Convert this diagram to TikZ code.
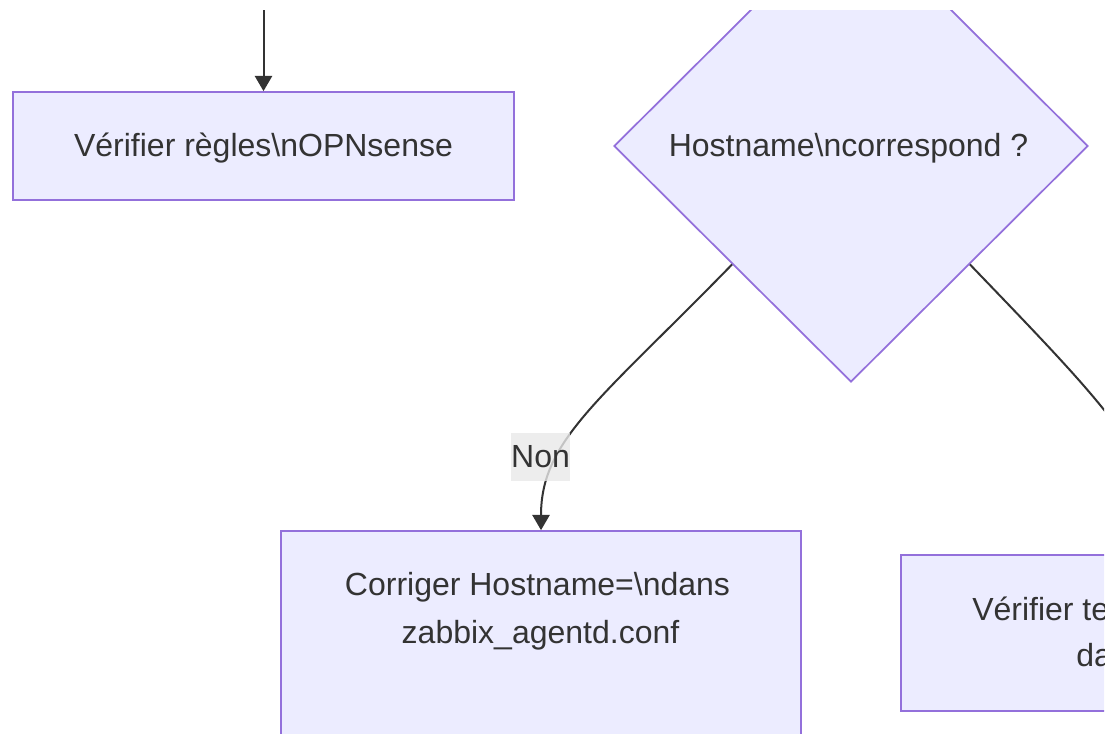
\documentclass[tikz,border=0pt]{standalone}
\usepackage{fontspec}
\setmainfont{Liberation Sans}
\usetikzlibrary{arrows.meta,shapes.geometric}
\definecolor{nodefill}{HTML}{ECECFF}
\definecolor{nodeline}{HTML}{9370DB}
\definecolor{ink}{HTML}{333333}
\definecolor{labelbg}{HTML}{E8E8E8}
\begin{document}
\begin{tikzpicture}[x=0.75pt,y=-0.75pt,
  every node/.style={font=\fontsize{24}{36}\selectfont, text=ink},
  box/.style={draw=nodeline, fill=nodefill, line width=1.3pt, inner sep=0pt},
  txt/.style={anchor=base, inner sep=0pt},
  flow/.style={draw=ink, line width=1.5pt, -{Triangle[length=11.5pt,width=13pt]}},
  edgelabel/.style={fill=labelbg, fill opacity=0.8, text opacity=1, inner sep=0pt,
                    minimum width=42.75pt, minimum height=36pt}
]
\useasboundingbox (0,0) rectangle (1120,733);
\clip (0,10) rectangle (1104,733);

% process boxes and the decision
\node[box, minimum width=375.75pt, minimum height=81pt] (rules) at (263.5,146) {};
\node[box, diamond, aspect=1, minimum width=355.5pt, minimum height=354pt] (check) at (851,146) {};
\node[box, minimum width=390pt, minimum height=171.75pt] (fix) at (541,645.5) {};
\node[box, minimum width=390pt, minimum height=117pt] (tmpl) at (1161,633) {};

% box texts
\node[txt] (rulesA) at (263.5,156) {Vérifier règles\textbackslash nOPNsense};
\node[txt] (checkA) at (848.5,156) {Hostname\textbackslash ncorrespond ?};
\node[txt] (fixA) at (537.5,595) {Corriger Hostname=\textbackslash ndans};
\node[txt] (fixB) at (540.5,643) {zabbix\_agentd.conf};
\node[txt, anchor=base west] (tmplA) at (972,620) {Vérifier te};
\node[txt, anchor=base west] (tmplB) at (1076,666) {da};

% connectors
\coordinate (entry) at (263.5,0);
\draw[flow] (entry) -- (rules.north);
\draw[flow] (check.south west) .. controls (600,400) and (541,440) .. (fix.north);
\draw[flow] (check.south east) .. controls (1100,400) and (1161,460) .. (tmpl.north);

% edge label
\node[edgelabel] (non) at (540.5,457) {Non};
\end{tikzpicture}
\end{document}
